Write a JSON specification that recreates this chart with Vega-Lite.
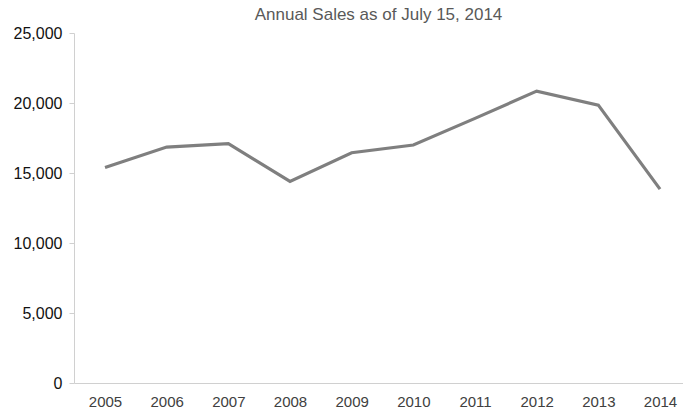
{
  "$schema": "https://vega.github.io/schema/vega-lite/v6.json",
  "autosize": "none",
  "width": 609,
  "height": 350,
  "padding": {"left": 74, "top": 33, "right": 0, "bottom": 31},
  "background": "white",
  "title": {
    "text": "Annual Sales as of July 15, 2014",
    "font": "Liberation Sans",
    "fontSize": 17,
    "fontWeight": "normal",
    "color": "#595959",
    "offset": 1
  },
  "data": {
    "values": [
      {"year": 2005, "sales": 15400},
      {"year": 2006, "sales": 16850},
      {"year": 2007, "sales": 17100},
      {"year": 2008, "sales": 14400},
      {"year": 2009, "sales": 16450},
      {"year": 2010, "sales": 17000},
      {"year": 2011, "sales": 18900},
      {"year": 2012, "sales": 20850},
      {"year": 2013, "sales": 19850},
      {"year": 2014, "sales": 13850}
    ]
  },
  "mark": {"type": "line", "color": "#7f7f7f", "strokeWidth": 3.2, "clip": false},
  "encoding": {
    "x": {
      "field": "year",
      "type": "quantitative",
      "scale": {"domain": [2004.497, 2014.373], "nice": false, "zero": false},
      "axis": {
        "title": null,
        "values": [2005, 2006, 2007, 2008, 2009, 2010, 2011, 2012, 2013, 2014],
        "format": "d",
        "grid": false,
        "ticks": false,
        "domainColor": "#d0d0d0",
        "domainWidth": 1,
        "labelFont": "Liberation Sans",
        "labelFontSize": 15,
        "labelColor": "#404040",
        "labelPadding": 11,
        "labelFlush": false
      }
    },
    "y": {
      "field": "sales",
      "type": "quantitative",
      "scale": {"domain": [0, 25000], "nice": false},
      "axis": {
        "title": null,
        "values": [0, 5000, 10000, 15000, 20000, 25000],
        "format": ",d",
        "grid": false,
        "ticks": true,
        "tickSize": 5,
        "tickColor": "#d0d0d0",
        "domainColor": "#d0d0d0",
        "domainWidth": 1,
        "labelFont": "Liberation Sans",
        "labelFontSize": 16,
        "labelColor": "#111111",
        "labelPadding": 7,
        "labelFlush": false
      }
    }
  },
  "config": {"view": {"stroke": null}}
}
